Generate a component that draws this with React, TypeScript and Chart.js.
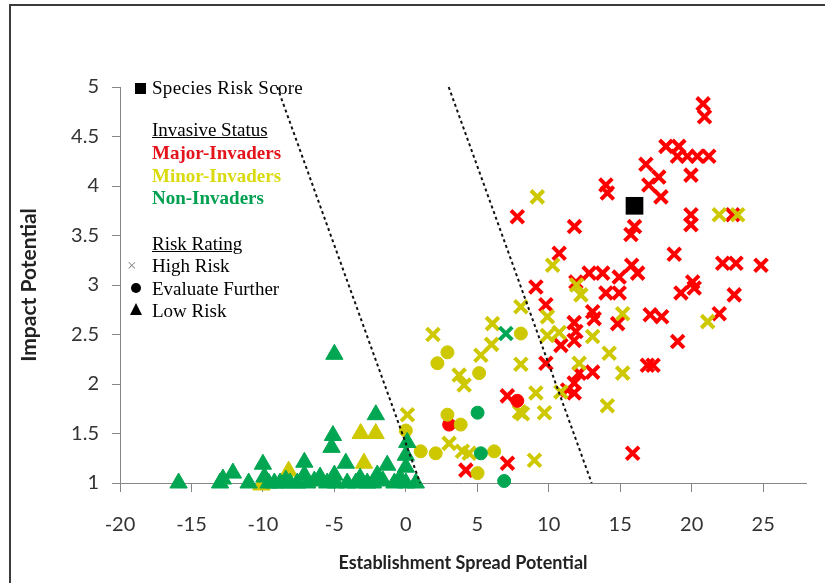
import React, { useEffect, useRef } from "react";
import { Chart, registerables } from "chart.js";

Chart.register(...registerables);

type P = [number, number];

const X_TICKS = [-20, -15, -10, -5, 0, 5, 10, 15, 20, 25];
const Y_TICKS = [1, 1.5, 2, 2.5, 3, 3.5, 4, 4.5, 5];
const X_TITLE = "Establishment Spread Potential";
const Y_TITLE = "Impact Potential";

// Major-Invaders (red)
const majorHigh: P[] = [
  [20.8, 4.83], [20.9, 4.7], [18.2, 4.4], [19.1, 4.4], [19.0, 4.3], [19.7, 4.3],
  [20.4, 4.3], [21.2, 4.3], [16.8, 4.22], [17.7, 4.09], [19.95, 4.11], [17.0, 4.01],
  [17.85, 3.89], [14.0, 4.01], [14.1, 3.93], [7.8, 3.69], [11.8, 3.59], [16.0, 3.59],
  [15.75, 3.51], [19.95, 3.71], [19.95, 3.61], [22.87, 3.71], [10.73, 3.32], [18.78, 3.31],
  [22.17, 3.22], [23.1, 3.22], [24.85, 3.2], [12.83, 3.12], [13.77, 3.12], [14.93, 3.08],
  [15.8, 3.2], [16.22, 3.12], [9.1, 2.98], [11.9, 3.03], [14.0, 2.92], [14.93, 2.92],
  [19.25, 2.92], [20.07, 3.03], [20.18, 2.97], [22.98, 2.9], [9.8, 2.8], [13.07, 2.73],
  [13.18, 2.66], [14.82, 2.61], [17.1, 2.7], [17.9, 2.68], [21.93, 2.71], [11.78, 2.62],
  [11.9, 2.53], [11.78, 2.44], [10.85, 2.39], [19.02, 2.43], [16.9, 2.19], [17.3, 2.19],
  [9.8, 2.21], [13.07, 2.12], [12.13, 2.11], [11.78, 2.01], [11.32, 1.94], [11.78, 1.91],
  [7.1, 1.88], [15.87, 1.3], [4.2, 1.13], [7.11, 1.2],
];
const majorEval: P[] = [[7.8, 1.83], [3.03, 1.59]];

// Minor-Invaders (yellow)
const minorHigh: P[] = [
  [9.2, 3.89], [10.27, 3.2], [21.93, 3.71], [23.22, 3.71], [11.95, 3.0], [12.25, 2.9],
  [9.91, 2.68], [8.05, 2.78], [15.17, 2.71], [21.12, 2.63], [6.06, 2.61], [1.9, 2.5],
  [9.9, 2.49], [10.73, 2.52], [13.07, 2.48], [6.0, 2.4], [5.25, 2.29], [3.73, 2.09],
  [4.08, 1.99], [8.05, 2.2], [12.13, 2.21], [14.23, 2.31], [15.17, 2.11], [9.1, 1.91],
  [10.85, 1.92], [14.1, 1.78], [7.95, 1.72], [8.16, 1.7], [9.7, 1.71], [0.11, 1.69],
  [3.03, 1.4], [3.96, 1.32], [4.43, 1.3], [9.0, 1.23],
];
const minorEval: P[] = [
  [8.05, 2.51], [2.91, 2.32], [2.21, 2.21], [5.13, 2.11], [0.0, 1.53], [2.91, 1.69],
  [3.84, 1.59], [1.04, 1.32], [2.09, 1.3], [6.18, 1.32], [5.02, 1.1],
];
const minorLow: P[] = [[-3.16, 1.5], [-2.11, 1.5], [-2.93, 1.2], [-8.2, 1.12], [-10.1, 0.98]];

// Non-Invaders (green)
const nonHigh: P[] = [[7.0, 2.51]];
const nonEval: P[] = [[5.02, 1.71], [5.25, 1.3], [6.88, 1.02]];
const nonLow: P[] = [
  [-15.9, 1.0], [-13.0, 1.0], [-12.8, 1.04], [-12.1, 1.1], [-11.0, 1.0], [-10.0, 1.19],
  [-9.9, 1.06], [-9.6, 1.0], [-9.2, 1.0], [-8.8, 1.0], [-8.4, 1.03], [-8.1, 1.0],
  [-7.6, 1.0], [-7.1, 1.21], [-7.1, 1.08], [-6.9, 1.0], [-6.4, 1.02], [-6.0, 1.06],
  [-5.5, 1.0], [-5.0, 1.08], [-4.9, 1.0], [-4.2, 1.2], [-4.1, 1.0], [-3.5, 1.0],
  [-3.2, 1.05], [-2.7, 1.0], [-2.3, 1.0], [-2.0, 1.08], [-1.6, 1.02], [-1.3, 1.18],
  [-0.8, 1.0], [-0.4, 1.05], [0.0, 1.0], [0.7, 1.0], [0.0, 1.16], [0.0, 1.28],
  [0.1, 1.41], [-5.1, 1.48], [-5.2, 1.36], [-2.1, 1.69], [-5.0, 2.3],
];

const speciesScore: P[] = [[16, 3.8]];
const boundaryLeft: P[] = [[-9, 5], [1, 1]];
const boundaryRight: P[] = [[3, 5], [13, 1]];

const STATUS_LABELS = ["Major-Invaders", "Minor-Invaders", "Non-Invaders"];
const RISK_LABELS = ["High Risk", "Evaluate Further", "Low Risk"];

const RED = "#FF0000";
const YELLOW = "rgb(206,200,0)";
const GREEN = "#00A651";

const toXY = (a: P[]) => a.map(([x, y]) => ({ x, y }));

function pts(label: string, data: P[], style: string, color: string, radius: number, bw: number) {
  return {
    type: "scatter" as const,
    label,
    data: toXY(data),
    pointStyle: style,
    pointRadius: radius,
    pointBorderWidth: bw,
    pointBackgroundColor: color,
    pointBorderColor: color,
    showLine: false,
    clip: false as const,
  };
}

function line(label: string, data: P[]) {
  return {
    type: "scatter" as const,
    label,
    data: toXY(data),
    showLine: true,
    borderColor: "#111",
    borderWidth: 2,
    borderDash: [3, 3],
    pointRadius: 0,
    clip: false as const,
  };
}

export default function App() {
  const ref = useRef<HTMLCanvasElement | null>(null);

  useEffect(() => {
    if (!ref.current) return;
    const datasets: any[] = [
      pts("Species Risk Score", speciesScore, "rect", "#000", 12.5, 0),
      line("Boundary left", boundaryLeft),
      line("Boundary right", boundaryRight),
      pts("Non Low", nonLow, "triangle", GREEN, 10, 1),
      pts("Non Eval", nonEval, "circle", GREEN, 6.5, 1),
      pts("Non High", nonHigh, "crossRot", GREEN, 9, 4),
      pts("Minor Low", minorLow, "triangle", YELLOW, 10, 1),
      pts("Minor Eval", minorEval, "circle", YELLOW, 6.5, 1),
      pts("Major Eval", majorEval, "circle", RED, 6.5, 1),
      pts("Minor High", minorHigh, "crossRot", YELLOW, 9, 4),
      pts("Major High", majorHigh, "crossRot", RED, 9, 4),
    ].map((d, i) => ({ ...d, order: i }));

    const tickColor = "#868686";
    const chart = new Chart(ref.current, {
      type: "scatter",
      data: { datasets },
      options: {
        animation: false,
        responsive: false,
        events: [],
        layout: { padding: { left: 10, right: 19, top: 87, bottom: 0 } },
        plugins: { legend: { display: false }, tooltip: { enabled: false } },
        scales: {
          x: {
            type: "linear",
            min: -20,
            max: 28,
            afterFit: (s: any) => { s.height = 100; },
            afterBuildTicks: (s: any) => { s.ticks = X_TICKS.map((v) => ({ value: v })); },
            grid: { display: true, drawOnChartArea: false, drawTicks: true, tickLength: 9, color: tickColor },
            border: { display: true, color: tickColor, width: 1 },
            ticks: {
              padding: 21,
              color: "#333",
              font: { family: "Lato", size: 20 },
              callback: (v: any) => String(v),
            },
            title: {
              display: true,
              text: X_TITLE,
              color: "#222",
              font: { family: "Lato", size: 18, weight: "bold" },
              padding: { top: 0, bottom: 9 },
            },
          },
          y: {
            type: "linear",
            min: 1,
            max: 5,
            afterFit: (s: any) => { s.width = 110; },
            afterBuildTicks: (s: any) => { s.ticks = Y_TICKS.map((v) => ({ value: v })); },
            grid: { display: true, drawOnChartArea: false, drawTicks: true, tickLength: 8, color: tickColor },
            border: { display: true, color: tickColor, width: 1 },
            ticks: {
              padding: 13,
              color: "#333",
              font: { family: "Lato", size: 20 },
              callback: (v: any) => String(v),
            },
            title: {
              display: true,
              text: Y_TITLE,
              color: "#222",
              font: { family: "Lato", size: 21, weight: "bold" },
              padding: { top: 7, bottom: 0 },
            },
          },
        },
      } as any,
    });
    return () => chart.destroy();
  }, []);

  const serif = "'Liberation Serif', 'Times New Roman', serif";
  const textStyle = (top: number, extra: React.CSSProperties = {}): React.CSSProperties => ({
    position: "absolute",
    left: 152,
    top,
    fontFamily: serif,
    fontSize: 19,
    lineHeight: "19px",
    whiteSpace: "nowrap",
    color: "#000",
    ...extra,
  });
  const statusColors = ["#E3141B", "#DADA10", "#00A050"];
  const statusTops = [143, 166, 188];
  const riskTops = [256, 279, 301];

  return (
    <div style={{ position: "fixed", left: 0, top: 0, width: 825, height: 583, background: "#fff", overflow: "hidden" }}>
      <div style={{ position: "absolute", left: 9, top: 4, width: 830, height: 600, border: "2px solid #3c3c3c", boxSizing: "border-box" }} />
      <canvas ref={ref} width={825} height={583} style={{ position: "absolute", left: 0, top: 0, width: 825, height: 583 }} />
      <div style={{ position: "absolute", left: 135, top: 83, width: 11, height: 11, background: "#000" }} />
      <div style={textStyle(78, { letterSpacing: "0.3px" })}>Species Risk Score</div>
      <div style={textStyle(120, { textDecoration: "underline" })}>Invasive Status</div>
      {STATUS_LABELS.map((t, i) => (
        <div key={t} style={textStyle(statusTops[i], { fontWeight: "bold", color: statusColors[i] })}>{t}</div>
      ))}
      <div style={textStyle(234, { textDecoration: "underline" })}>Risk Rating</div>
      {RISK_LABELS.map((t, i) => (
        <div key={t} style={textStyle(riskTops[i])}>{t}</div>
      ))}
      <div style={{ position: "absolute", left: 127, top: 257, fontFamily: serif, fontSize: 17, lineHeight: "17px", color: "#888" }}>×</div>
      <div style={{ position: "absolute", left: 131, top: 283, width: 10, height: 10, borderRadius: "50%", background: "#000" }} />
      <div style={{ position: "absolute", left: 130, top: 303, width: 0, height: 0, borderLeft: "6px solid transparent", borderRight: "6px solid transparent", borderBottom: "12px solid #000" }} />
    </div>
  );
}
